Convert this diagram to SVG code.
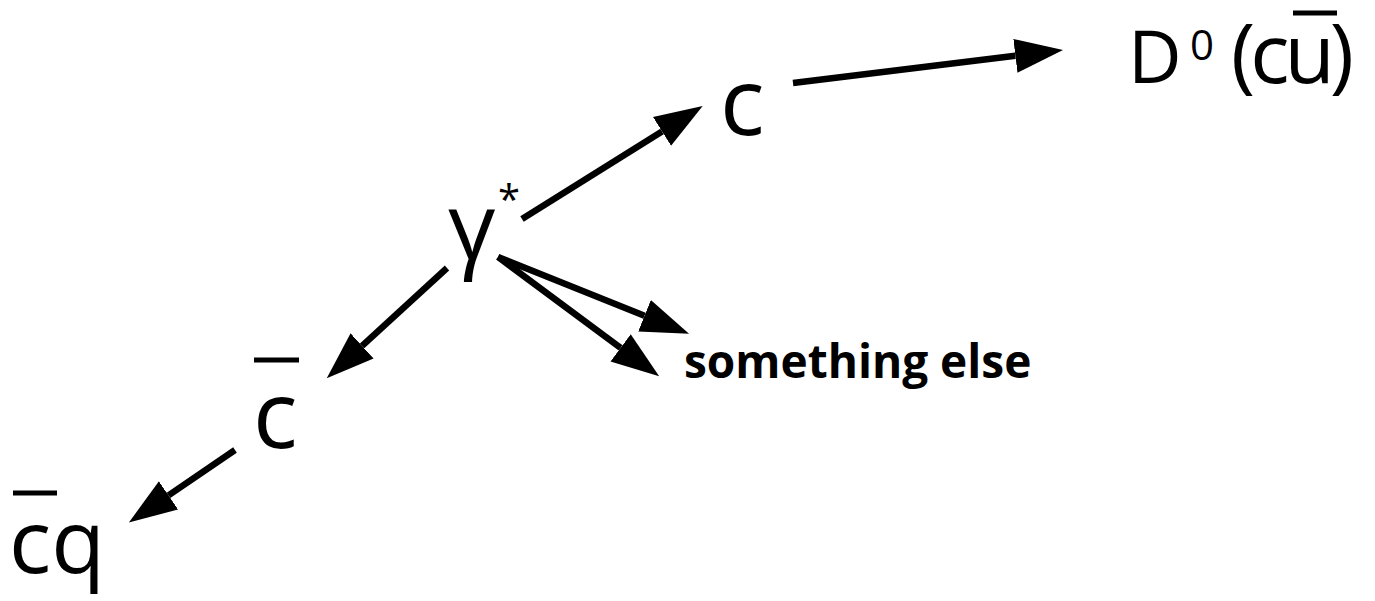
<svg xmlns="http://www.w3.org/2000/svg" width="1375" height="601" viewBox="0 0 1375 601">
  <style>
    .lbl { font-family: "Open Sans", "Noto Sans", sans-serif; fill: #000; font-weight: 500; }
    .big { font-size: 93px; }
    .note { font-size: 46px; font-weight: bold; }
    .bar { stroke: #000; stroke-width: 5; }
    .edge { stroke: #000; stroke-width: 6.5; fill: none; marker-end: url(#head); }
  </style>
  <defs>
    <marker id="head" markerUnits="userSpaceOnUse" markerWidth="50" markerHeight="36" viewBox="0 -18 50 36" refX="0" refY="0" orient="auto">
      <path d="M0,-17 L48,0 L0,17 z" fill="#000"/>
    </marker>
  </defs>
  <rect width="1375" height="601" fill="#fff"/>

  <!-- arrows: each line stops at the base of its arrowhead -->
  <g id="connectors">
    <line class="edge" x1="522" y1="219" x2="662" y2="131.4"/>
    <line class="edge" x1="793" y1="83" x2="1015.4" y2="55.8"/>
    <line class="edge" x1="447" y1="268" x2="362.1" y2="345.9"/>
    <line class="edge" x1="235" y1="450" x2="168.5" y2="495.4"/>
    <line class="edge" x1="498" y1="257" x2="644.5" y2="315.8"/>
    <line class="edge" x1="498" y1="257" x2="620.6" y2="347.8"/>
  </g>

  <g id="gamma">
    <text class="lbl big" x="448" y="260">γ</text>
    <text class="lbl" x="498" y="214" font-size="40">*</text>
  </g>

  <g id="c">
    <text class="lbl big" x="720" y="135">c</text>
  </g>

  <g id="D0">
    <text class="lbl" x="1128" y="83" font-size="74">D</text>
    <text class="lbl" x="1190" y="60" font-size="42">0</text>
    <text class="lbl" x="1231" y="83" font-size="82" letter-spacing="-5">(cu)</text>
    <line class="bar" x1="1293" y1="13" x2="1337" y2="13"/>
  </g>

  <g id="cbar">
    <text class="lbl big" x="253" y="448">c</text>
    <line class="bar" x1="254" y1="360" x2="299" y2="360"/>
  </g>

  <g id="cbarq">
    <text class="lbl" x="9" y="573" font-size="88">cq</text>
    <line class="bar" x1="13" y1="493" x2="57" y2="493"/>
  </g>

  <g id="other">
    <text class="lbl note" x="684" y="378">something else</text>
  </g>
</svg>
